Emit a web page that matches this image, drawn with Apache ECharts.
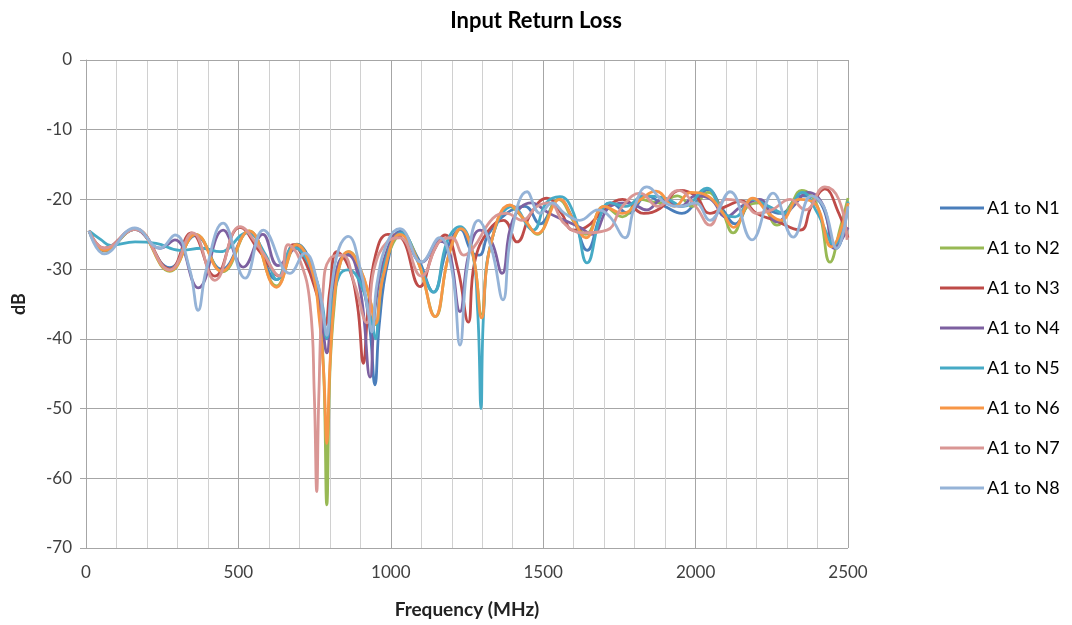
<!DOCTYPE html>
<html>
<head>
<meta charset="utf-8">
<script src="https://cdn.jsdelivr.net/npm/echarts@6/dist/echarts.min.js"></script>
<style>
html,body{margin:0;padding:0;background:#fff;}
#chart{width:1072px;height:625px;}
</style>
</head>
<body>
<div id="chart"></div>
<script>
const title = "Input Return Loss";
const xName = "Frequency (MHz)";
const yName = "dB";
const seriesNames = ["A1 to N1","A1 to N2","A1 to N3","A1 to N4","A1 to N5","A1 to N6","A1 to N7","A1 to N8"];
const colors = ["#4A7EBB","#98B954","#BE4B48","#7D60A0","#46AAC5","#F79646","#D99694","#95B3D7"];

// [frequency MHz, dB]
const n1 = [[10,-24.5],[60,-27.2],[160,-24.3],[275,-29.8],[360,-25.2],[445,-30],[535,-24.6],[625,-31.5],[692,-26.4],[745,-30],[775,-36],[790,-40],[805,-35],[830,-29],[860,-27.8],[900,-31],[930,-38],[948,-46.6],[962,-38],[990,-29],[1030,-24.6],[1090,-28.5],[1140,-33.3],[1185,-27],[1228,-24.3],[1265,-27.5],[1290,-28],[1320,-25],[1380,-22],[1440,-21],[1490,-23.5],[1550,-20],[1600,-23],[1644,-27.3],[1690,-22],[1720,-20.5],[1780,-22],[1840,-19.5],[1900,-21],[1955,-22],[2000,-20.5],[2040,-18.6],[2090,-21.5],[2130,-23.5],[2190,-20],[2240,-21.5],[2280,-22],[2345,-19.5],[2400,-20],[2463,-27],[2500,-20.5]];
const n2 = [[10,-24.5],[60,-27.4],[160,-24.3],[275,-30.3],[360,-25],[448,-30.4],[535,-24.5],[625,-32.4],[692,-26.5],[740,-30],[765,-36],[780,-45],[790,-63.8],[800,-45],[815,-35],[835,-29],[862,-27.5],[900,-30],[935,-35],[952,-38],[970,-32],[1000,-27],[1035,-25],[1090,-29],[1146,-36.8],[1190,-28],[1232,-24.2],[1270,-28],[1298,-36.5],[1325,-27],[1390,-21],[1440,-23],[1480,-25],[1550,-20],[1605,-23.5],[1640,-25],[1700,-21],[1760,-22.5],[1820,-20],[1880,-20.5],[1940,-19.5],[1990,-21],[2040,-19],[2085,-21.5],[2123,-24.8],[2170,-21],[2210,-20.5],[2267,-23.7],[2310,-21],[2348,-18.7],[2400,-21],[2441,-29],[2475,-24],[2500,-19.8]];
const n3 = [[10,-24.5],[60,-27],[160,-24.2],[275,-30],[345,-24.8],[423,-31],[505,-24],[570,-27.5],[636,-31],[680,-26.5],[720,-29],[760,-34],[785,-38],[800,-33],[823,-27.5],[860,-29.5],[890,-35],[910,-43.5],[925,-36],[950,-28],[990,-25],[1030,-25.3],[1096,-32.5],[1140,-27.5],[1178,-25.1],[1220,-30],[1254,-37.6],[1275,-29],[1320,-24.5],[1370,-23],[1414,-26.1],[1460,-22],[1512,-19.8],[1560,-22],[1598,-24.4],[1640,-24],[1700,-21.5],[1760,-20],[1830,-22],[1883,-21.3],[1950,-18.7],[2000,-19.5],[2047,-22],[2100,-21],[2150,-20.2],[2200,-22],[2260,-23],[2343,-24.4],[2380,-21],[2424,-18.5],[2470,-22],[2500,-25.5]];
const n4 = [[10,-24.5],[60,-27.3],[160,-24.3],[243,-27],[292,-25.8],[368,-32.7],[450,-24.4],[516,-29.7],[580,-25],[630,-29.5],[690,-27],[745,-31],[775,-38],[790,-42],[805,-36],[830,-29],[860,-28],[900,-33],[932,-45.5],[950,-35],[990,-27],[1030,-24.8],[1102,-29],[1160,-26],[1190,-27],[1227,-36.1],[1255,-28],[1293,-24.4],[1330,-26],[1365,-30.6],[1400,-23],[1460,-20.5],[1520,-22],[1570,-23],[1620,-24],[1660,-25],[1720,-21],[1780,-20.5],[1840,-21.5],[1890,-20],[1950,-21],[2000,-19.5],[2050,-20],[2100,-22.5],[2150,-21],[2210,-20],[2267,-23.2],[2320,-21],[2370,-19],[2420,-21],[2455,-27],[2500,-24]];
const n5 = [[10,-24.5],[50,-25.8],[80,-26.6],[161,-26.1],[230,-26.3],[308,-27.3],[380,-27],[440,-27.5],[528,-24.8],[590,-28],[626,-31.5],[680,-26.8],[740,-30],[775,-35],[790,-39.9],[805,-36],[830,-31],[860,-30.1],[900,-32],[935,-37],[950,-40],[965,-33],[1000,-26.5],[1035,-24.8],[1090,-29],[1140,-33.3],[1185,-26],[1227,-23.9],[1265,-27],[1285,-36],[1296,-50],[1305,-36],[1330,-26],[1400,-21],[1467,-24.4],[1510,-20.5],[1555,-19.6],[1600,-22],[1644,-29.1],[1690,-22],[1719,-20.5],[1770,-21],[1830,-19.5],[1900,-19.8],[1960,-21],[2037,-18.4],[2090,-22],[2130,-22.5],[2185,-20],[2240,-21],[2290,-22],[2350,-19],[2400,-22],[2455,-26.5],[2500,-20.3]];
const n6 = [[10,-24.5],[60,-27.3],[160,-24.2],[275,-30.2],[360,-25],[445,-30.3],[535,-24.5],[625,-32.6],[690,-26.5],[740,-30],[765,-37],[780,-45],[790,-55],[800,-44],[815,-34],[835,-29],[860,-27.5],[900,-30],[930,-34],[950,-37.8],[975,-31],[1030,-25],[1090,-29],[1145,-36.8],[1190,-28],[1230,-24.2],[1270,-28],[1298,-37],[1325,-27],[1391,-20.8],[1440,-23],[1480,-24.9],[1555,-20],[1600,-23],[1640,-25.5],[1700,-21],[1760,-22],[1820,-20],[1870,-18.8],[1930,-21],[1985,-19],[2040,-19.5],[2090,-22],[2125,-24],[2188,-19.8],[2240,-22],[2280,-23],[2340,-20],[2390,-20.5],[2445,-26.8],[2500,-20.5]];
const n7 = [[10,-24.5],[60,-27],[160,-24.3],[275,-30.1],[350,-24.8],[423,-31.6],[505,-23.9],[570,-27],[636,-31],[663,-26.5],[700,-28.5],[735,-35],[749,-48],[757,-61.9],[764,-48],[778,-33],[800,-28.5],[840,-28],[880,-32],[921,-37.7],[945,-30],[990,-26],[1030,-25.5],[1100,-31],[1160,-26],[1200,-25.5],[1240,-28],[1270,-27],[1335,-22.7],[1380,-22],[1430,-23],[1480,-21],[1520,-20.5],[1570,-23.5],[1630,-24.8],[1709,-24.4],[1760,-21],[1818,-19.1],[1877,-21],[1942,-18.7],[2000,-21],[2047,-23.7],[2100,-20],[2160,-20.5],[2200,-22],[2250,-21.5],[2310,-20],[2360,-21.5],[2424,-18.2],[2470,-20],[2497,-25.8]];
const n8 = [[10,-24.5],[60,-27.8],[160,-24.1],[243,-27],[292,-25.1],[340,-30],[368,-35.9],[395,-30],[450,-23.4],[522,-31.3],[582,-24.4],[669,-30.6],[718,-27.7],[760,-32],[780,-37],[790,-39.5],[805,-33],[830,-27],[860,-25.3],[900,-30],[925,-36],[938,-39],[955,-32],[990,-26],[1030,-24.2],[1100,-29],[1160,-25.5],[1200,-30],[1227,-40.9],[1250,-30],[1287,-23],[1330,-27],[1368,-34.4],[1395,-25],[1447,-18.9],[1490,-22],[1530,-20.5],[1570,-22],[1620,-23],[1680,-21.5],[1719,-22.5],[1768,-25.5],[1800,-21],[1840,-18.2],[1900,-20.5],[1950,-21],[2000,-20.5],[2047,-23],[2113,-18.9],[2185,-25.8],[2254,-19.1],[2320,-25.4],[2380,-19.5],[2420,-21],[2463,-27],[2500,-21]];
const seriesData = [n1,n2,n3,n4,n5,n6,n7,n8];

const xMin = 0, xMax = 2500, xStep = 500;
const yMin = -70, yMax = 0, yStep = 10;

const FONT = "Lato, 'Open Sans', sans-serif";
const chart = echarts.init(document.getElementById('chart'), null, {renderer:'canvas'});
chart.setOption({
  backgroundColor:'#ffffff',
  animation:false,
  color: colors,
  title:{
    text: title, left: 531, top: 5, textAlign:'center',
    textStyle:{fontFamily:FONT, fontSize:22, fontWeight:'bold', color:'#000'}
  },
  grid:{left:86, right:224, top:60, bottom:77, containLabel:false},
  legend:{
    orient:'vertical', left:935, top:194,
    itemWidth:44, itemHeight:18, itemGap:22,
    icon:'path://M0,8 L44,8 L44,11 L0,11 Z',
    textStyle:{fontFamily:FONT, fontSize:18, color:'#000', padding:[0,0,0,-2]},
    data: seriesNames
  },
  xAxis:{
    type:'value', min:xMin, max:xMax, interval:xStep,
    name:xName, nameLocation:'middle', nameGap:52,
    nameTextStyle:{fontFamily:FONT, fontSize:19, fontWeight:'bold', color:'#222'},
    axisLine:{show:true, lineStyle:{color:'#a6a6a6', width:1}},
    axisTick:{show:true, length:6, lineStyle:{color:'#a6a6a6'}},
    minorTick:{show:false, splitNumber:5},
    axisLabel:{fontFamily:FONT, fontSize:17, color:'#404040', margin:16, formatter: v => String(v)},
    splitLine:{show:true, lineStyle:{color:'#a6a6a6', width:1}},
    minorSplitLine:{show:true, lineStyle:{color:'#d0d0d0', width:1}}
  },
  yAxis:{
    type:'value', min:yMin, max:yMax, interval:yStep,
    name:yName, nameLocation:'middle', nameGap:58, nameRotate:90,
    nameTextStyle:{fontFamily:FONT, fontSize:18, fontWeight:'bold', color:'#222'},
    axisLine:{show:true, lineStyle:{color:'#a6a6a6', width:1}},
    axisTick:{show:true, length:6, lineStyle:{color:'#a6a6a6'}},
    axisLabel:{fontFamily:FONT, fontSize:17, color:'#404040', margin:14, formatter: v => String(v)},
    splitLine:{show:true, lineStyle:{color:'#a6a6a6', width:1}}
  },
  series: seriesNames.map((name,i)=>({
    name, type:'line', data: seriesData[i], smooth:0.45,
    symbol:'none', z: 2+i,
    lineStyle:{width:2.8, color: colors[i]}
  }))
});
</script>
</body>
</html>
